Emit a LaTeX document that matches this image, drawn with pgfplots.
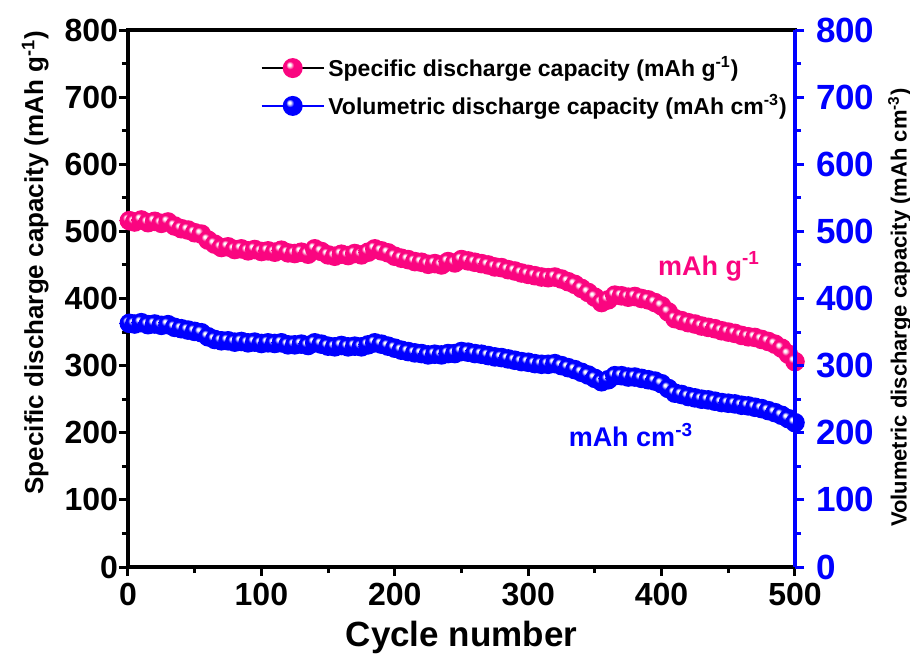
\documentclass[border=0pt]{standalone}
\usepackage{fontspec}
\setmainfont{Liberation Sans}
\usepackage{pgfplots}
\usepackage{pgfplotstable}
\pgfplotsset{compat=1.18}
\definecolor{cpink}{RGB}{250,5,128}
\definecolor{cblue}{RGB}{0,0,255}
\definecolor{pinkhl}{RGB}{253,150,200}
\definecolor{bluehl}{RGB}{150,150,255}

\pgfdeclareradialshading{pinkballshade}{\pgfqpoint{-9bp}{9bp}}{color(0bp)=(white); color(3bp)=(white); color(6bp)=(pinkhl); color(10bp)=(cpink); color(50bp)=(cpink)}
\pgfdeclareradialshading{blueballshade}{\pgfqpoint{-9bp}{9bp}}{color(0bp)=(white); color(3bp)=(white); color(6bp)=(bluehl); color(10bp)=(cblue); color(50bp)=(cblue)}
\pgfdeclareplotmark{pinkball}{\pgfpathcircle{\pgfpointorigin}{\pgfplotmarksize}\pgfshadepath{pinkballshade}{0}\pgfusepath{discard}}
\pgfdeclareplotmark{blueball}{\pgfpathcircle{\pgfpointorigin}{\pgfplotmarksize}\pgfshadepath{blueballshade}{0}\pgfusepath{discard}}

\pgfplotstableread{
x y
1 516
5 514
10 517
15 513
20 515
25 512
30 514
35 508
40 504
45 502
50 498
55 496
60 487
65 481
70 476
75 477
80 473
85 474
90 471
95 473
100 470
105 471
110 469
115 472
120 468
125 467
130 469
135 466
140 474
145 470
150 465
155 463
160 466
165 464
170 467
175 465
180 469
185 474
190 471
195 468
200 463
205 460
210 458
215 455
220 454
225 451
230 452
235 450
240 455
245 453
250 458
255 456
260 454
265 452
270 450
275 447
280 446
285 443
290 441
295 438
300 436
305 434
310 432
315 431
320 432
325 429
330 425
335 421
340 415
345 409
350 402
355 394
360 398
365 405
370 404
375 402
380 403
385 400
390 398
395 394
400 389
405 380
410 370
415 367
420 364
425 362
430 359
435 357
440 355
445 352
450 350
455 348
460 345
465 343
470 342
475 339
480 336
485 332
490 326
495 317
500 306
}\spec

\pgfplotstableread{
x y
1 363
5 362
10 364
15 361
20 362
25 360
30 361
35 357
40 355
45 353
50 351
55 349
60 343
65 339
70 337
75 337
80 335
85 336
90 334
95 335
100 333
105 334
110 333
115 334
120 331
125 331
130 332
135 330
140 334
145 332
150 329
155 328
160 330
165 328
170 329
175 328
180 331
185 334
190 332
195 329
200 326
205 323
210 321
215 319
220 318
225 316
230 317
235 316
240 318
245 318
250 321
255 320
260 318
265 317
270 315
275 313
280 312
285 310
290 308
295 306
300 305
305 303
310 302
315 302
320 303
325 300
330 297
335 294
340 290
345 286
350 281
355 276
360 279
365 285
370 285
375 283
380 283
385 281
390 279
395 277
400 273
405 266
410 259
415 257
420 254
425 252
430 250
435 249
440 247
445 245
450 244
455 243
460 241
465 240
470 238
475 236
480 233
485 230
490 226
495 221
500 215
}\vol

\begin{document}
\begin{tikzpicture}
\useasboundingbox (-64pt,-44pt) rectangle (391pt,283.5pt);
\begin{axis}[
  at={(0,0)}, anchor=south west,
  scale only axis, width=333.5pt, height=268.5pt,
  xmin=0, xmax=500, ymin=0, ymax=800,
  xtick={0,100,...,500}, ytick={0,100,...,800},
  minor x tick num=1, minor y tick num=1,
  tick align=outside, xtick pos=bottom, ytick pos=left,
  axis line style={line width=2pt},
  major tick length=4.5pt, minor tick length=3pt,
  every tick/.style={line width=1.5pt, black},
  /pgf/number format/assume math mode=true,
  ticklabel style={font=\bfseries\fontsize{16}{16}\selectfont},
  yticklabel style={xshift=3pt},
  xlabel={Cycle number},
  xlabel style={font=\bfseries\fontsize{17.5}{17.5}\selectfont, at={(axis description cs:0.5,-0.132)}, anchor=center},
  ylabel={Specific discharge capacity (mAh g\textsuperscript{-1})},
  ylabel style={font=\bfseries\fontsize{13}{13}\selectfont, at={(axis description cs:-0.139,0.567)}, anchor=center, rotate=0},
  legend cell align=left,
  legend style={draw=none, fill=none, at={(axis description cs:0.19,0.966)}, anchor=north west,
    font=\bfseries\fontsize{11.5}{11.5}\selectfont, row sep=3.5pt},
]
\addplot[color=black, line width=0.5pt, mark=pinkball, mark size=4.9pt,
  legend image code/.code={
    \draw[black, line width=0.6pt] (0pt,0pt) -- (31pt,0pt);
    \draw[mark=pinkball, mark size=5pt] plot coordinates {(15.5pt,0pt)};
  }] table[x=x,y=y] {\spec};
\addlegendentry{Specific discharge capacity (mAh g\textsuperscript{-1})}
\addplot[color=cblue, line width=0.5pt, mark=blueball, mark size=4.9pt,
  legend image code/.code={
    \draw[cblue, line width=0.6pt] (0pt,0pt) -- (31pt,0pt);
    \draw[mark=blueball, mark size=5pt] plot coordinates {(15.5pt,0pt)};
  }] table[x=x,y=y] {\vol};
\addlegendentry{Volumetric discharge capacity (mAh cm\textsuperscript{-3})}
\node[anchor=base, text=cpink, font=\bfseries\fontsize{13.5}{13.5}\selectfont] at (axis cs:435.5,435) {mAh g\textsuperscript{-1}};
\node[anchor=base, text=cblue, font=\bfseries\fontsize{13.5}{13.5}\selectfont] at (axis cs:377,179) {mAh cm\textsuperscript{-3}};
\end{axis}
\begin{axis}[
  at={(0,0)}, anchor=south west,
  scale only axis, width=333.5pt, height=268.5pt,
  xmin=0, xmax=500, ymin=0, ymax=800,
  axis x line=none, axis y line*=right,
  ytick={0,100,...,800}, minor y tick num=1,
  tick align=outside,
  y axis line style={line width=2pt, cblue, -},
  major tick length=4.5pt, minor tick length=3pt,
  every tick/.style={line width=1.5pt, cblue},
  /pgf/number format/assume math mode=true,
  yticklabel style={font=\bfseries\fontsize{17.5}{17.5}\selectfont, text=cblue, xshift=2.5pt},
  ylabel={Volumetric discharge capacity (mAh cm\textsuperscript{-3})},
  ylabel style={font=\bfseries\fontsize{11}{11}\selectfont, at={(axis description cs:1.157,0.483)}, anchor=center, rotate=0},
]
\end{axis}
\end{tikzpicture}
\end{document}
